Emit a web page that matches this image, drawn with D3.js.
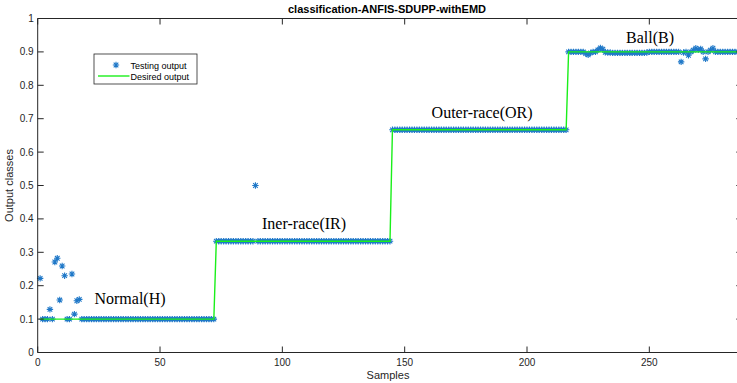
<!DOCTYPE html>
<html>
<head>
<meta charset="utf-8">
<script src="https://cdn.jsdelivr.net/npm/d3@7"></script>
<style>
  body { margin: 0; background: #fff; }
  svg { display: block; }
</style>
</head>
<body>
<svg id="chart" width="737" height="383"></svg>
<script>
// ---- data ----
const classNames = ["Normal(H)", "Iner-race(IR)", "Outer-race(OR)", "Ball(B)"];
const classLevels = [0.1, 0.3333, 0.6667, 0.9];
const samplesPerClass = 72;
// testing output samples that differ from the desired level: [sample, value]
const testingDeviations = [
  [1, 0.222], [5, 0.129], [7, 0.271], [8, 0.282], [9, 0.157], [10, 0.259],
  [11, 0.230], [14, 0.235], [15, 0.115], [16, 0.155], [17, 0.159],
  [89, 0.500],
  [224, 0.895], [225, 0.891], [226, 0.897], [229, 0.906], [230, 0.912], [231, 0.908],
  [232, 0.899], [233, 0.898], [234, 0.898], [235, 0.897], [236, 0.897], [237, 0.897],
  [238, 0.897], [239, 0.897], [240, 0.897], [241, 0.897], [242, 0.897], [243, 0.897],
  [244, 0.897], [245, 0.897], [246, 0.897], [247, 0.897], [248, 0.897], [249, 0.898],
  [263, 0.870], [264, 0.898], [266, 0.890], [268, 0.905], [269, 0.911], [270, 0.906],
  [271, 0.909], [273, 0.879], [275, 0.905], [276, 0.911]
];
const xTicks = [0, 50, 100, 150, 200, 250];
const yTicks = [0, 0.1, 0.2, 0.3, 0.4, 0.5, 0.6, 0.7, 0.8, 0.9, 1];
const labelAnchors = [[23.2, 0.145], [91.7, 0.370], [161, 0.703], [240.5, 0.928]];

(function draw() {
  // desired output: one constant level per fault class
  const desired = [];
  classLevels.forEach((lvl, c) => {
    for (let i = 1; i <= samplesPerClass; i++) desired.push({ x: c * samplesPerClass + i, y: lvl });
  });
  const devMap = new Map(testingDeviations);
  const testing = desired.map(d => ({ x: d.x, y: devMap.has(d.x) ? devMap.get(d.x) : d.y }));

  // ---- layout ----
  const svg = d3.select("#chart");
  const mLeft = 37.7, mTop = 18.5, mBottom = 352.5;
  const x = d3.scaleLinear().domain([0, 288]).range([mLeft, mLeft + 288 * 2.4465]);
  const y = d3.scaleLinear().domain([0, 1]).range([mBottom, mTop]);
  const mRight = x(288);
  const midX = (mLeft + mRight) / 2;
  const axisColor = "#262626";
  const tickLen = 6;

  const plot = svg.append("g");

  // testing output markers (asterisks)
  const r = 3.2;
  const k = r * 0.72;
  const star = `M${-r},0L${r},0M0,${-r}L0,${r}M${-k},${-k}L${k},${k}M${-k},${k}L${k},${-k}`;
  plot.append("g").selectAll("path").data(testing).join("path")
    .attr("transform", d => `translate(${x(d.x)},${y(d.y)})`)
    .attr("d", star)
    .attr("fill", "none")
    .attr("stroke", "#1f78c8")
    .attr("stroke-width", 1.1);

  // desired output line
  plot.append("path").datum(desired)
    .attr("d", d3.line().x(d => x(d.x)).y(d => y(d.y)))
    .attr("fill", "none")
    .attr("stroke", "#1aef1a")
    .attr("stroke-width", 1.4);

  // axes box with inward ticks
  const axes = svg.append("g").attr("stroke", axisColor).attr("stroke-width", 1);
  axes.append("path").attr("fill", "none")
    .attr("d", `M${mLeft},${mTop}L${mRight},${mTop}L${mRight},${mBottom}L${mLeft},${mBottom}Z`);
  xTicks.forEach(t => {
    axes.append("line").attr("x1", x(t)).attr("x2", x(t)).attr("y1", mBottom).attr("y2", mBottom - tickLen);
    axes.append("line").attr("x1", x(t)).attr("x2", x(t)).attr("y1", mTop).attr("y2", mTop + tickLen);
  });
  yTicks.forEach(t => {
    axes.append("line").attr("x1", mLeft).attr("x2", mLeft + tickLen).attr("y1", y(t)).attr("y2", y(t));
    axes.append("line").attr("x1", mRight).attr("x2", mRight - tickLen).attr("y1", y(t)).attr("y2", y(t));
  });

  const sans = "'Liberation Sans', Arial, Helvetica, sans-serif";
  const fmt = d3.format("~g");
  svg.append("g").selectAll("text").data(xTicks).join("text")
    .attr("x", d => x(d)).attr("y", mBottom + 13)
    .attr("text-anchor", "middle")
    .attr("font-family", sans).attr("font-size", 10).attr("fill", axisColor)
    .text(d => fmt(d));
  svg.append("g").selectAll("text").data(yTicks).join("text")
    .attr("x", mLeft - 4).attr("y", d => y(d) + 3.5)
    .attr("text-anchor", "end")
    .attr("font-family", sans).attr("font-size", 10).attr("fill", axisColor)
    .text(d => fmt(d));

  svg.append("text").attr("x", midX - 2).attr("y", 379)
    .attr("text-anchor", "middle").attr("font-family", sans).attr("font-size", 11)
    .attr("fill", axisColor).text("Samples");
  svg.append("text").attr("transform", `translate(13,${(mTop + mBottom) / 2}) rotate(-90)`)
    .attr("text-anchor", "middle").attr("font-family", sans).attr("font-size", 11)
    .attr("fill", axisColor).text("Output classes");
  svg.append("text").attr("x", midX - 3).attr("y", 13)
    .attr("text-anchor", "middle").attr("font-family", sans).attr("font-size", 11)
    .attr("font-weight", "bold").attr("fill", "#000").text("classification-ANFIS-SDUPP-withEMD");

  // class annotations
  svg.append("g").selectAll("text").data(classNames).join("text")
    .attr("x", (d, i) => x(labelAnchors[i][0]))
    .attr("y", (d, i) => y(labelAnchors[i][1]))
    .attr("font-family", "'Liberation Serif', 'Times New Roman', serif")
    .attr("font-size", 16).attr("fill", "#000")
    .text(d => d);

  // legend
  const lg = svg.append("g").attr("transform", "translate(94,54)");
  lg.append("rect").attr("width", 103).attr("height", 30)
    .attr("fill", "#fff").attr("stroke", axisColor).attr("stroke-width", 0.8);
  lg.append("path").attr("transform", "translate(22,11)").attr("d", star)
    .attr("fill", "none").attr("stroke", "#1f78c8").attr("stroke-width", 1.1);
  lg.append("text").attr("x", 36.5).attr("y", 14.5)
    .attr("font-family", sans).attr("font-size", 9).attr("fill", "#000").text("Testing output");
  lg.append("line").attr("x1", 4).attr("x2", 35.5).attr("y1", 22).attr("y2", 22)
    .attr("stroke", "#1aef1a").attr("stroke-width", 1.4);
  lg.append("text").attr("x", 36.5).attr("y", 25.5)
    .attr("font-family", sans).attr("font-size", 9).attr("fill", "#000").text("Desired output");
})();
</script>
</body>
</html>
